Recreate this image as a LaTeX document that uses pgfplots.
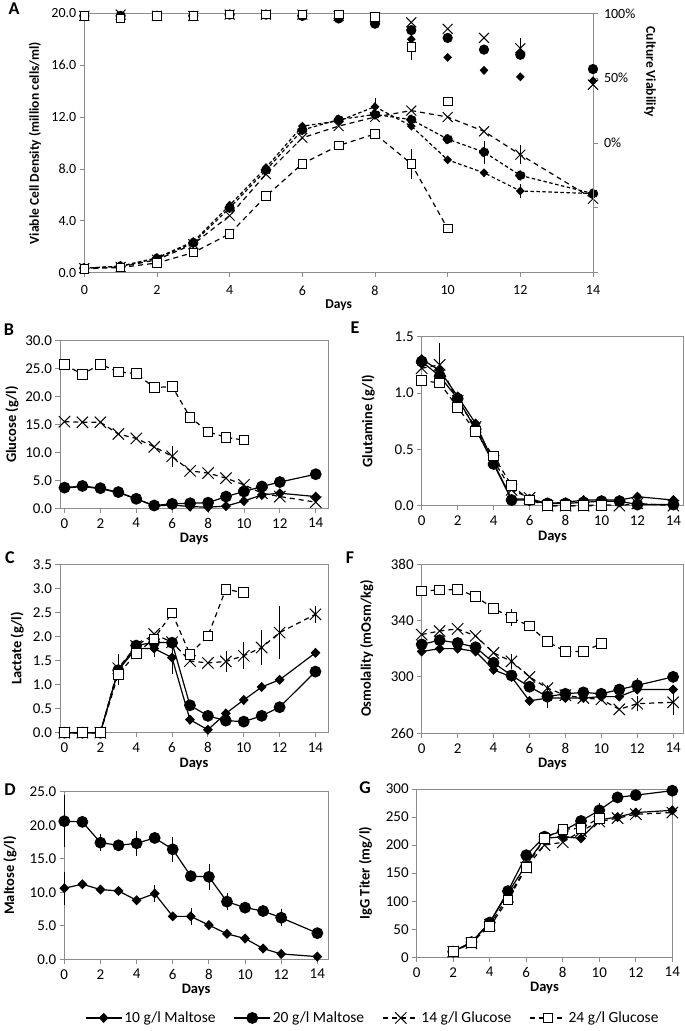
\documentclass[border=0pt]{standalone}
\usepackage{fontspec}
\setmainfont{Carlito}
\usepackage{pgfplots}
\pgfplotsset{compat=1.18}
\definecolor{axgray}{HTML}{8C8C8C}

\pgfplotsset{
  base/.style={scale only axis, clip=false,
    axis line style={axgray, line width=0.8pt},
    tick style={axgray, line width=0.8pt},
    tick align=outside, major tick length=4.5pt, tick pos=left,
    xtick={0,2,...,14}, xlabel={Days},
    /pgf/number format/assume math mode=true,
    every axis plot/.append style={line width=1.2pt}},
  lower/.style={base,
    tick label style={font=\fontsize{15}{16}\selectfont},
    xticklabel style={yshift=-2pt},
    label style={font=\bfseries\fontsize{14.5}{16}\selectfont},
    xlabel style={at={(axis description cs:0.5,0)}, anchor=center, yshift=-31pt}},
  onedec/.style={yticklabel style={/pgf/number format/.cd, fixed, fixed zerofill, precision=1}},
  s1/.style={black, solid, mark=diamond*, mark size=4.2pt, mark options={solid, xscale=1.3}},
  s2/.style={black, solid, mark=*, mark size=5.3pt},
  s3/.style={black, dash pattern=on 5pt off 4pt, mark=x, mark size=8pt, mark options={solid, line width=1pt}},
  s4/.style={black, dash pattern=on 5pt off 4pt, mark=square*, mark size=4.8pt, mark options={solid, fill=white, line width=0.9pt}},
  eb/.style={error bars/y dir=both, error bars/y explicit,
    error bars/error bar style={black, solid, line width=0.6pt},
    error bars/error mark options={black, solid, mark size=3pt, line width=0.6pt}},
}

\begin{document}
\begin{tikzpicture}[x=1pt,y=1pt]
\useasboundingbox (0,0) rectangle (685,1031);

% ---------- A: viable cell density + viability
\begin{axis}[base, at={(84.3pt,758.3pt)}, anchor=south west, width=508.7pt, height=259.4pt,
  xmin=0, xmax=14, ymin=0, ymax=20, ytick={0,4,...,20}, onedec,
  tick label style={font=\fontsize{14}{15}\selectfont},
  xticklabel style={yshift=-5pt},
  label style={font=\bfseries\fontsize{13.5}{15}\selectfont},
  ylabel={Viable Cell Density (million cells/ml)},
  ylabel style={at={(axis description cs:-0.097,0.5)}, anchor=center},
  xlabel style={at={(axis description cs:0.5,0)}, anchor=center, yshift=-32pt}]
\addplot[s1, dash pattern=on 3.5pt off 2.5pt, mark size=3.6pt, eb] coordinates {
  (0,0.35) (1,0.5) (2,1.15) (3,2.4) (4,5.2) (5,8.1) (6,11.3) (7,11.7) (8,12.8) +- (0,0.45)
  (9,11.3) (10,8.7) (11,7.7) (12,6.3) +- (0,0.3) (14,6.1)};
\addplot[s2, dash pattern=on 3.5pt off 2.5pt, mark size=4.5pt, eb] coordinates {
  (0,0.35) (1,0.5) (2,1.1) (3,2.3) (4,5.0) (5,7.9) (6,11.0) (7,11.8) (8,12.2)
  (9,11.8) (10,10.3) (11,9.3) +- (0,0.65) (12,7.5) (14,6.1)};
\addplot[s3, mark size=7pt, eb] coordinates {
  (0,0.35) (1,0.45) (2,1.0) (3,2.2) (4,4.4) (5,7.6) (6,10.4) (7,11.3) (8,12.0)
  (9,12.5) (10,12.0) (11,10.9) (12,9.1) +- (0,0.5) (14,5.7)};
\addplot[s4, mark size=4.3pt, eb] coordinates {
  (0,0.3) (1,0.4) (2,0.75) (3,1.55) (4,3.0) (5,5.9) (6,8.4) (7,9.8) (8,10.7)
  (9,8.4) +- (0,0.93) (10,3.4)};
\end{axis}
\begin{axis}[base, at={(84.3pt,758.3pt)}, anchor=south west, width=508.7pt, height=259.4pt,
  xmin=0, xmax=14, ymin=-100, ymax=100, axis x line=none, axis y line*=right,
  ytick pos=right, yticklabel pos=right,
  ytick={-100,-50,...,100}, yticklabels={,,0\%,50\%,100\%}, xlabel={},
  yticklabel style={xshift=3pt},
  tick label style={font=\fontsize{14}{15}\selectfont}]
\addplot[s1, only marks, mark size=3.6pt] coordinates {
  (0,98) (1,98) (2,98) (3,98) (4,99) (5,99) (6,99) (7,98) (8,94) (9,80) (10,66) (11,56) (12,51) (14,48)};
\addplot[s2, only marks, mark size=4.5pt] coordinates {
  (0,98) (1,98) (2,98) (3,98) (4,99) (5,99) (6,98) (7,96) (8,92) (9,87) (10,81) (11,72) (12,68) (14,57)};
\addplot[s3, only marks, mark size=7pt, eb] coordinates {
  (0,98) (1,99) (2,98) (3,98) (4,99) (5,99) (6,99) (7,98) (8,97) (9,93) (10,88) (11,81) (12,73) +- (0,6) (14,45)};
\addplot[s4, only marks, mark size=4.3pt, eb] coordinates {
  (0,98) (1,96) (2,98) (3,98) (4,99) (5,99) (6,99) (7,99) (8,97) (9,74) +- (0,8) (10,32)};
\end{axis}
\node[rotate=-90, font=\bfseries\fontsize{13.5}{15}\selectfont] at (650,959) {Culture Viability};

% ---------- B: glucose
\begin{axis}[lower, onedec, at={(60pt,522.7pt)}, anchor=south west, width=268.3pt, height=167.6pt,
  xmin=-0.25, xmax=14.7, ymin=0, ymax=30, ytick={0,5,...,30},
  ylabel={Glucose (g/l)}, ylabel style={at={(axis description cs:-0.179,0.5)}, anchor=center}]
\addplot[s1] coordinates {(0,3.6) (1,3.9) (2,3.5) (3,2.8) (4,1.7) (5,0.4) (6,0.6) (7,0.3) (8,0.2) (9,0.4) (10,1.3) (11,2.4) (12,2.7) (14,2.1)};
\addplot[s2] coordinates {(0,3.7) (1,4.0) (2,3.6) (3,2.9) (4,1.7) (5,0.5) (6,0.8) (7,0.9) (8,1.0) (9,2.1) (10,3.0) (11,3.9) (12,4.7) (14,6.1)};
\addplot[s3, eb] coordinates {(0,15.5) (1,15.4) (2,15.4) (3,13.3) (4,12.5) (5,11.0) (6,9.3) +- (0,1.3) (7,6.7) (8,6.3) (9,5.4) (10,4.2) (11,2.7) (12,2.1) (14,1.1)};
\addplot[s4] coordinates {(0,25.7) (1,24.0) (2,25.8) (3,24.4) (4,24.1) (5,21.6) (6,21.8) (7,16.3) (8,13.7) (9,12.7) (10,12.2)};
\end{axis}

% ---------- E: glutamine
\begin{axis}[lower, onedec, at={(421.7pt,525.3pt)}, anchor=south west, width=261.6pt, height=169pt,
  xmin=0, xmax=14.55, ymin=0, ymax=1.5, ytick={0,0.5,1,1.5},
  ylabel={Glutamine (g/l)}, ylabel style={at={(axis description cs:-0.204,0.5)}, anchor=center}]
\addplot[s1] coordinates {(0,1.30) (1,1.20) (2,0.97) (3,0.73) (4,0.38) (5,0.06) (6,0.06) (7,0.02) (8,0.03) (9,0.05) (10,0.05) (11,0.05) (12,0.08) (14,0.05)};
\addplot[s2] coordinates {(0,1.28) (1,1.15) (2,0.95) (3,0.68) (4,0.37) (5,0.05) (6,0.05) (7,0.02) (8,0.02) (9,0.03) (10,0.04) (11,0.04) (12,0.01) (14,0.01)};
\addplot[s3, eb] coordinates {(0,1.22) (1,1.25) +- (0,0.17) (2,0.93) (3,0.70) (4,0.40) (5,0.14) (6,0.07) (7,0.0) (8,0.0) (9,0.0) (10,0.01) (11,0.0) (12,0.02) (14,0.0)};
\addplot[s4] coordinates {(0,1.11) (1,1.09) (2,0.87) (3,0.66) (4,0.44) (5,0.18) (6,0.05) (7,0.0) (8,0.0) (9,0.0) (10,0.0)};
\end{axis}

% ---------- C: lactate
\begin{axis}[lower, onedec, at={(60pt,298.3pt)}, anchor=south west, width=268pt, height=168.4pt,
  xmin=-0.25, xmax=14.7, ymin=0, ymax=3.5, ytick={0,0.5,1,1.5,2,2.5,3,3.5},
  ylabel={Lactate (g/l)}, ylabel style={at={(axis description cs:-0.16,0.5)}, anchor=center}]
\addplot[s1, eb] coordinates {(0,0) (1,0) (2,0) (3,1.3) (4,1.75) (5,1.75) +- (0,0.12) (6,1.56) +- (0,0.27) (7,0.27) (8,0.06) (9,0.4) (10,0.68) (11,0.95) (12,1.1) (14,1.66)};
\addplot[s2] coordinates {(0,0) (1,0) (2,0) (3,1.3) (4,1.81) (5,1.88) (6,1.87) (7,0.57) (8,0.35) (9,0.25) (10,0.23) (11,0.35) (12,0.53) (14,1.27)};
\addplot[s3, eb] coordinates {(0,0) (1,0) (2,0) (3,1.34) +- (0,0.23) (4,1.8) (5,2.05) (6,1.88) (7,1.49) (8,1.45) (9,1.48) +- (0,0.15) (10,1.6) +- (0,0.22) (11,1.77) +- (0,0.3) (12,2.08) +- (0,0.49) (14,2.46) +- (0,0.12)};
\addplot[s4, eb] coordinates {(0,0) (1,0) (2,0) (3,1.21) +- (0,0.15) (4,1.65) (5,1.95) (6,2.49) (7,1.63) (8,2.01) (9,2.98) (10,2.91)};
\end{axis}

% ---------- F: osmolality
\begin{axis}[lower, at={(421.7pt,297.7pt)}, anchor=south west, width=261.3pt, height=169.3pt,
  xmin=0, xmax=14.55, ymin=260, ymax=380, ytick={260,300,340,380},
  ylabel={Osmolality (mOsm/kg)}, ylabel style={at={(axis description cs:-0.21,0.5)}, anchor=center}]
\addplot[s1] coordinates {(0,318) (1,320) (2,320) (3,318) (4,305) (5,300) (6,283) (7,285) (8,285) (9,285) (10,286) (11,286) (12,291) (14,291)};
\addplot[s2, eb] coordinates {(0,323) (1,326) (2,324) (3,321) (4,310) (5,301) (6,293) (7,286) +- (0,6) (8,288) (9,289) (10,288) (11,291) (12,294) +- (0,3) (14,300)};
\addplot[s3, eb] coordinates {(0,330) (1,332.5) (2,334) (3,329) (4,317) (5,311) +- (0,3) (6,300) (7,292) (8,287) (9,285) (10,284) (11,277) (12,281) +- (0,3) (14,282) +- (0,7)};
\addplot[s4, eb] coordinates {(0,361) (1,361.5) (2,362) (3,357) (4,348.5) (5,342) +- (0,4) (6,336) (7,325) (8,318) (9,318) (10,323.5)};
\end{axis}

% ---------- D: maltose (carries the legend)
\begin{axis}[lower, onedec, at={(64.3pt,71.7pt)}, anchor=south west, width=263.7pt, height=167.6pt,
  xmin=0, xmax=14.59, ymin=0, ymax=25, ytick={0,5,...,25},
  ylabel={Maltose (g/l)}, ylabel style={at={(axis description cs:-0.206,0.5)}, anchor=center},
  legend columns=4,
  legend style={draw=none, fill=none, font=\fontsize{15.5}{17}\selectfont,
    at={(axis description cs:1.17,-0.35)}, anchor=center,
    /tikz/every even column/.append style={column sep=16pt}},
  legend image code/.code={\draw[mark repeat=2, mark phase=2, #1] plot coordinates {(0pt,0pt) (18pt,0pt) (36pt,0pt)};}]
\addplot[s1, eb] coordinates {(0,10.6) +- (0,2.0) (1,11.2) (2,10.4) (3,10.2) (4,8.8) (5,9.8) +- (0,0.8) (6,6.4) (7,6.4) +- (0,0.8) (8,5.1) (9,3.8) (10,3.1) (11,1.6) (12,0.8) (14,0.4)};
\addplot[s2, eb] coordinates {(0,20.6) +- (0,3.4) (1,20.5) (2,17.4) +- (0,0.8) (3,17.0) (4,17.3) +- (0,1.4) (5,18.1) (6,16.4) +- (0,1.4) (7,12.4) (8,12.3) +- (0,1.5) (9,8.6) +- (0,0.8) (10,7.7) (11,7.2) (12,6.2) +- (0,0.8) (14,3.9)};
\addlegendimage{s3}
\addlegendimage{s4}
\legend{10 g/l Maltose, 20 g/l Maltose, 14 g/l Glucose, 24 g/l Glucose}
\end{axis}

% ---------- G: IgG titer
\begin{axis}[lower, at={(416.7pt,73.7pt)}, anchor=south west, width=255.6pt, height=168.3pt,
  xmin=0, xmax=14, ymin=0, ymax=300, ytick={0,50,...,300},
  ylabel={IgG Titer (mg/l)}, ylabel style={at={(axis description cs:-0.2,0.5)}, anchor=center}]
\addplot[s1] coordinates {(2,10) (3,27) (4,62) (5,115) (6,165) (7,212) (8,215) (9,212) (10,245) (11,250) (12,258) (14,262)};
\addplot[s2, eb] coordinates {(2,10) (3,27) (4,62) (5,118) (6,182) (7,215) (8,225) (9,243) (10,262) +- (0,8) (11,285) (12,289) (14,297)};
\addplot[s3] coordinates {(2,10) (3,25) (4,58) (5,108) (6,160) (7,200) (8,205) (9,225) (10,242) (11,248) (12,255) (14,258)};
\addplot[s4] coordinates {(2,10) (3,27) (4,55) (5,102) (6,160) (7,212) (8,228) (9,230) (10,248)};
\end{axis}

% panel letters
\begin{scope}[every node/.style={font=\bfseries\fontsize{18}{18}\selectfont}]
\node at (14,1022) {A};
\node at (9,701) {B};
\node at (355,703) {E};
\node at (10,473) {C};
\node at (350,473) {F};
\node at (10,241) {D};
\node at (365,243) {G};
\end{scope}
\end{tikzpicture}
\end{document}
